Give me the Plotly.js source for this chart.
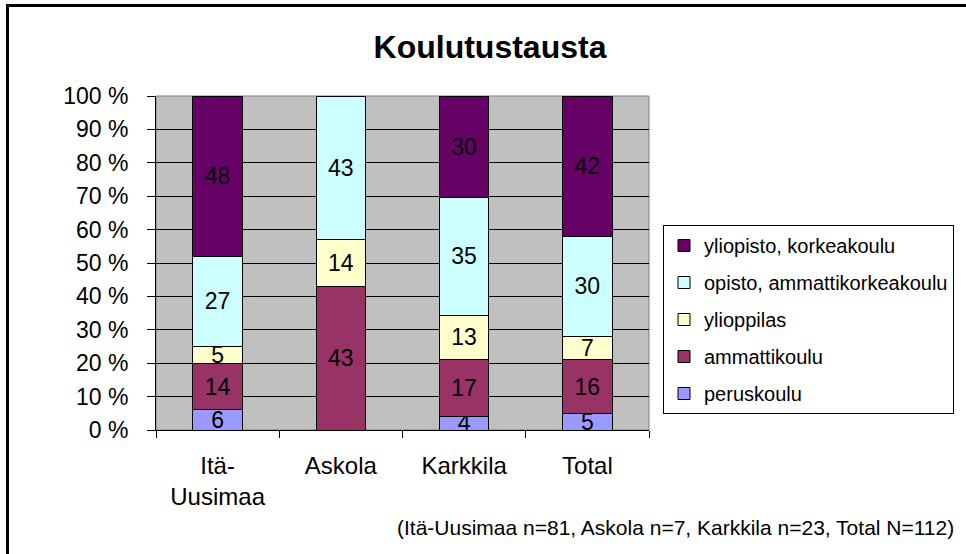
<!DOCTYPE html>
<html>
<head>
<meta charset="utf-8">
<script src="https://cdn.plot.ly/plotly-3.0.1.min.js"></script>
<style>html,body{margin:0;padding:0;background:#fff;}#chart{width:966px;height:554px;}</style>
</head>
<body>
<div id="chart"></div>
<script>
// Categories and tick labels
const categories = ["Itä-Uusimaa", "Askola", "Karkkila", "Total"];
const tickLabels = ["Itä-<br>Uusimaa", "Askola", "Karkkila", "Total"];

// Series (bottom to top), values in percent as labelled
const seriesNames = ["peruskoulu", "ammattikoulu", "ylioppilas", "opisto, ammattikorkeakoulu", "yliopisto, korkeakoulu"];
const peruskoulu  = [6, 0, 4, 5];
const ammattikoulu = [14, 43, 17, 16];
const ylioppilas  = [5, 14, 13, 7];
const opisto      = [27, 43, 35, 30];
const yliopisto   = [48, 0, 30, 42];
const seriesColors = ["#9999FF", "#993366", "#FFFFCC", "#CCFFFF", "#660066"];

const footnote = "(Itä-Uusimaa n=81, Askola n=7, Karkkila n=23, Total N=112)";

const FONT = "Arial, 'Liberation Sans', sans-serif";
const seriesValues = [peruskoulu, ammattikoulu, ylioppilas, opisto, yliopisto];

const traces = seriesValues.map((vals, i) => ({
  type: "bar",
  name: seriesNames[i],
  legendgroup: "g" + i,
  legendrank: 100 * (seriesValues.length - i),
  x: categories,
  y: vals,
  text: vals.map(v => v > 0 ? String(v) : ""),
  texttemplate: "%{text}",
  textposition: "inside",
  insidetextanchor: "middle",
  textangle: 0,
  constraintext: "none",
  textfont: {family: FONT, size: 23, color: "#000"},
  marker: {color: seriesColors[i], line: {color: "#000", width: 1}},
  hoverinfo: "skip"
}));

// geometry of plot area (pixels)
const L = 156, R = 649, T = 96, B = 430, W = 966, H = 554;
const pw = R - L, ph = B - T;
const px = x => (x - L) / pw;
const py = y => (B - y) / ph;

const layout = {
  width: W, height: H,
  margin: {l: L, r: W - R, t: T, b: H - B, pad: 0, autoexpand: false},
  paper_bgcolor: "#ffffff",
  plot_bgcolor: "#C0C0C0",
  barmode: "stack",
  barnorm: "percent",
  bargap: 0.6,
  font: {family: FONT, size: 22, color: "#000"},
  title: {
    text: "<b>Koulutustausta</b>",
    font: {family: FONT, size: 32, color: "#000"},
    xref: "container", yref: "container",
    x: 490 / W, xanchor: "center",
    y: 1 - 47 / H, yanchor: "middle"
  },
  xaxis: {
    type: "category",
    tickmode: "array",
    tickvals: categories,
    ticktext: tickLabels,
    tickson: "boundaries",
    ticks: "outside", ticklen: 7, tickcolor: "#000", tickwidth: 1,
    ticklabelstandoff: 14,
    showline: true, linecolor: "#000", linewidth: 1,
    showgrid: false,
    tickfont: {family: FONT, size: 24, color: "#000"},
    fixedrange: true
  },
  yaxis: {
    range: [0, 100],
    tickmode: "linear", tick0: 0, dtick: 10,
    ticksuffix: " %",
    ticks: "outside", ticklen: 8, tickcolor: "#000", tickwidth: 1,
    ticklabelstandoff: 14,
    showline: true, linecolor: "#000", linewidth: 1,
    showgrid: true, gridcolor: "#000", gridwidth: 1,
    zeroline: false,
    tickfont: {family: FONT, size: 23, color: "#000"},
    fixedrange: true
  },
  uniformtext: {mode: "show", minsize: 23},
  showlegend: true,
  legend: {
    traceorder: "grouped",
    xref: "container", yref: "container",
    x: 663 / W, xanchor: "left",
    y: 1 - 225 / H, yanchor: "top",
    bgcolor: "#ffffff",
    bordercolor: "#000", borderwidth: 1,
    font: {family: FONT, size: 20, color: "#000"},
    tracegroupgap: 8,
    itemwidth: 30
  },
  shapes: [
    {type: "rect", xref: "paper", yref: "paper", x0: 0, x1: 1, y0: 0, y1: 1,
     line: {color: "#808080", width: 1}, layer: "below"},
    {type: "rect", xref: "paper", yref: "paper",
     x0: px(7.5), x1: px(975), y0: py(5.5), y1: py(570),
     line: {color: "#000", width: 3}, fillcolor: "rgba(0,0,0,0)"}
  ],
  annotations: [
    {text: footnote, xref: "paper", yref: "paper",
     x: px(956), xanchor: "right", y: py(527), yanchor: "middle",
     showarrow: false, font: {family: FONT, size: 21, color: "#000"}}
  ]
};

Plotly.newPlot("chart", traces, layout, {displayModeBar: false, staticPlot: true});
</script>
</body>
</html>
